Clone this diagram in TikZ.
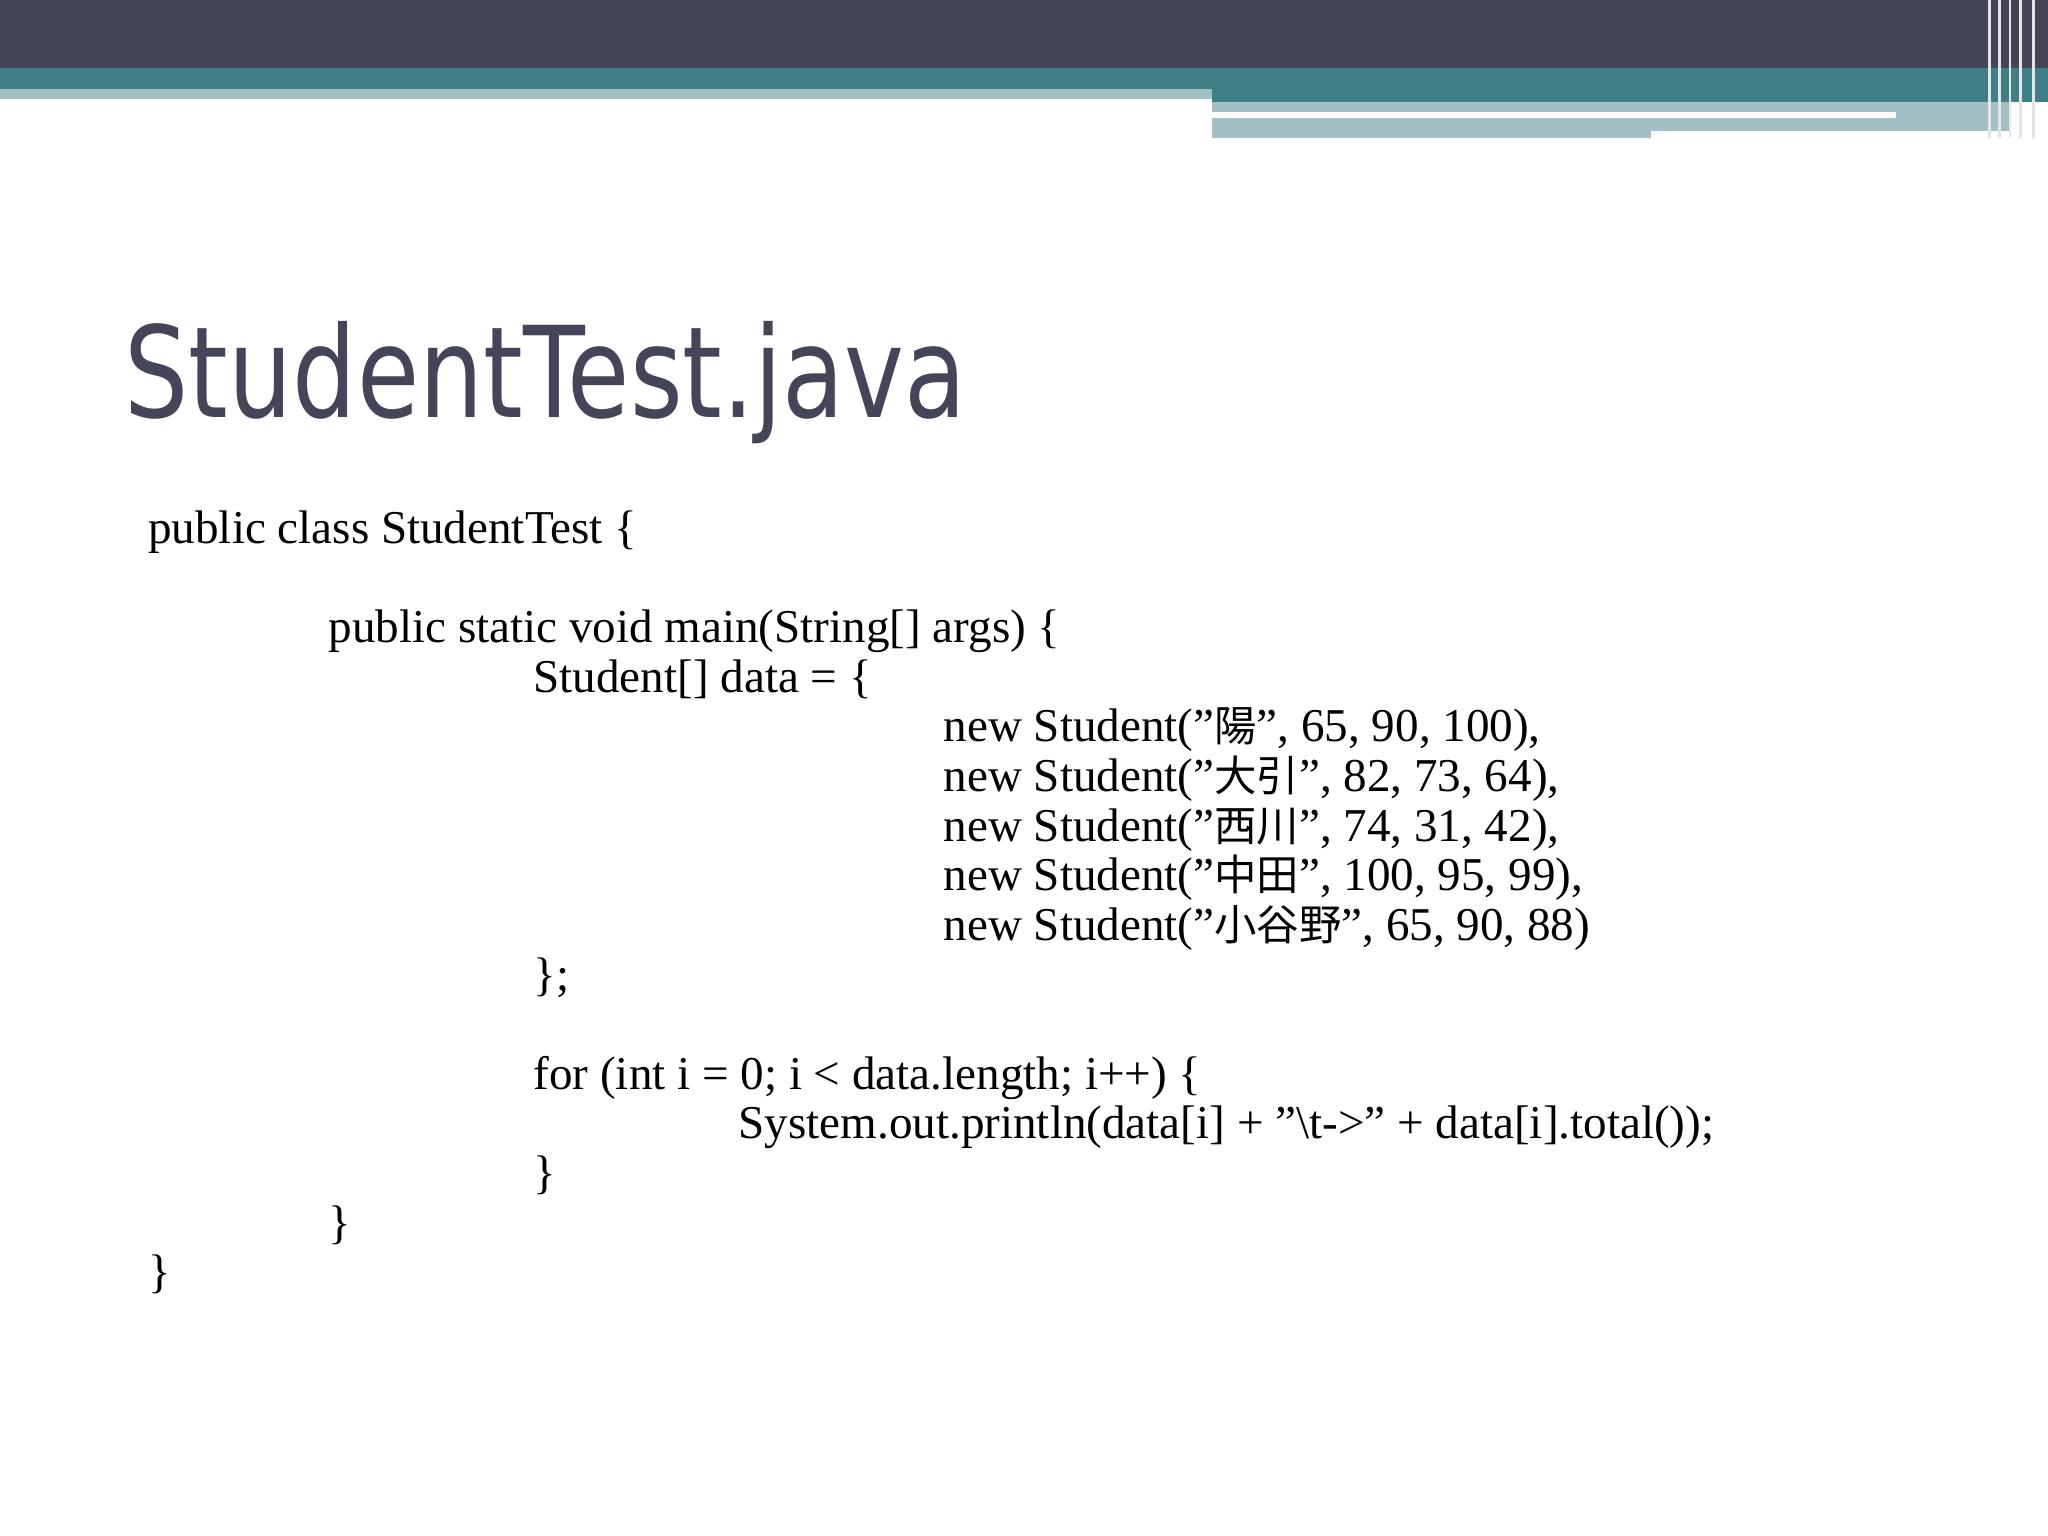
\documentclass[tikz,border=0pt]{standalone}
\usepackage{fontspec}
\setmainfont{Liberation Serif}
\newfontfamily\titlefont{DejaVu Sans}
\newfontfamily\cjk[Scale=0.9]{Noto Sans CJK JP}
\definecolor{dark}{HTML}{45455A}
\definecolor{teal}{HTML}{3F7F86}
\definecolor{pale}{HTML}{A2C0C4}
\newcommand{\dq}{\symbol{34}}
\tikzset{code/.style={anchor=base west,inner sep=0pt,font=\fontsize{13.4}{16}\selectfont}}
\begin{document}
\begin{tikzpicture}[x=0.013061cm,y=-0.013061cm]
\useasboundingbox (0,0) rectangle (1568,1176);
\fill[white] (0,0) rectangle (1568,1176);
\fill[dark] (0,0) rectangle (1568,52);
\fill[teal] (0,52) rectangle (1568,68);
\fill[pale] (0,68) rectangle (928,76);
\fill[teal] (928,68) rectangle (1568,78);
\fill[pale] (928,78) rectangle (1540,106);
\fill[white] (928,86) rectangle (1452,90);
\fill[white] (1264,100) rectangle (1540,106);
\foreach \xx in {1522,1530,1538,1546,1556}{\fill[white!80!gray] (\xx,0) rectangle (\xx+2,106);}
\node[anchor=base west,inner sep=0pt,text=dark,xscale=0.8,font=\titlefont\fontsize{36}{40}\selectfont] (title) at (95,320) {StudentTest.java};
\node[code] (l1) at (113,416) {public class StudentTest \{};
\node[code] (l2) at (251,492) {public static void main(String[] args) \{};
\node[code] (l3) at (408,530) {Student[] data = \{};
\node[code] (l4) at (722,568) {new Student(\dq{\cjk 陽}\dq, 65, 90, 100),};
\node[code] (l5) at (722,606) {new Student(\dq{\cjk 大引}\dq, 82, 73, 64),};
\node[code] (l6) at (722,644) {new Student(\dq{\cjk 西川}\dq, 74, 31, 42),};
\node[code] (l7) at (722,682) {new Student(\dq{\cjk 中田}\dq, 100, 95, 99),};
\node[code] (l8) at (722,720) {new Student(\dq{\cjk 小谷野}\dq, 65, 90, 88)};
\node[code] (l9) at (408,758) {\};};
\node[code] (l10) at (408,834) {for (int i = 0; i < data.length; i++) \{};
\node[code] (l11) at (565,872) {System.out.println(data[i] + \dq\textbackslash t->\dq{} + data[i].total());};
\node[code] (l12) at (408,910) {\}};
\node[code] (l13) at (251,948) {\}};
\node[code] (l14) at (113,986) {\}};
\end{tikzpicture}
\end{document}
